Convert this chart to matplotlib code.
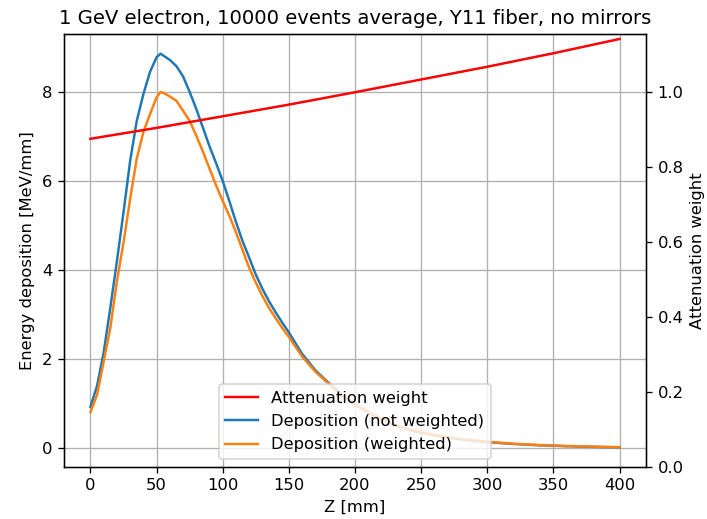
import matplotlib
matplotlib.use("Agg")
import matplotlib.pyplot as plt

# Z positions along the fiber [mm]
z_dep = [0, 5, 10, 15, 20, 25, 30, 35, 40, 45, 50, 53, 55, 60, 65, 70, 75, 80,
         85, 90, 95, 100, 105, 110, 115, 120, 125, 130, 135, 140, 145, 150, 160,
         170, 180, 190, 200, 210, 220, 230, 240, 250, 260, 270, 280, 290, 300,
         320, 340, 360, 380, 400]

# Mean energy deposition per mm, raw [MeV/mm]
dep_raw = [0.93, 1.40, 2.15, 3.15, 4.20, 5.30, 6.45, 7.35, 7.95, 8.45, 8.78, 8.86,
           8.82, 8.72, 8.58, 8.35, 8.00, 7.62, 7.20, 6.78, 6.40, 6.00, 5.55, 5.08,
           4.65, 4.28, 3.90, 3.58, 3.30, 3.05, 2.82, 2.60, 2.12, 1.75, 1.47, 1.20,
           0.98, 0.80, 0.65, 0.52, 0.42, 0.35, 0.29, 0.24, 0.20, 0.165, 0.135,
           0.095, 0.065, 0.045, 0.030, 0.020]

# Mean energy deposition per mm, attenuation weighted [MeV/mm]
dep_weighted = [0.81, 1.20, 1.95, 2.70, 3.75, 4.62, 5.60, 6.50, 7.10, 7.50, 7.88,
                8.00, 7.98, 7.90, 7.80, 7.58, 7.35, 7.02, 6.66, 6.28, 5.90, 5.55,
                5.22, 4.85, 4.45, 4.05, 3.72, 3.42, 3.15, 2.92, 2.70, 2.50, 2.06,
                1.72, 1.45, 1.19, 0.98, 0.81, 0.66, 0.53, 0.43, 0.36, 0.30, 0.25,
                0.21, 0.175, 0.145, 0.100, 0.070, 0.050, 0.035, 0.023]

# Attenuation weight along the fiber
z_att = [0, 50, 100, 150, 200, 250, 300, 350, 400]
att_weight = [0.875, 0.904, 0.935, 0.966, 0.999, 1.033, 1.067, 1.103, 1.141]

DPI = 118
fig = plt.figure(figsize=(707 / DPI, 519 / DPI), dpi=DPI)
ax = fig.add_axes([64 / 707, 1 - 467 / 519, (646 - 64) / 707, (467 - 34) / 519])
ax2 = ax.twinx()

l_raw, = ax.plot(z_dep, dep_raw, color="C0", lw=1.5, label="Deposition (not weighted)")
l_w, = ax.plot(z_dep, dep_weighted, color="C1", lw=1.5, label="Deposition (weighted)")
l_att, = ax2.plot(z_att, att_weight, color="red", lw=1.5, label="Attenuation weight")

ax.grid(True)
ax.set_xlabel("Z [mm]")
ax.set_ylabel("Energy deposition [MeV/mm]")
ax2.set_ylabel("Attenuation weight")
ax2.set_ylim(bottom=0)
ax.set_title("1 GeV electron, 10000 events average, Y11 fiber, no mirrors")

ax2.legend(handles=[l_att, l_raw, l_w], loc="lower center")

fig.savefig("out.png", dpi=DPI)
